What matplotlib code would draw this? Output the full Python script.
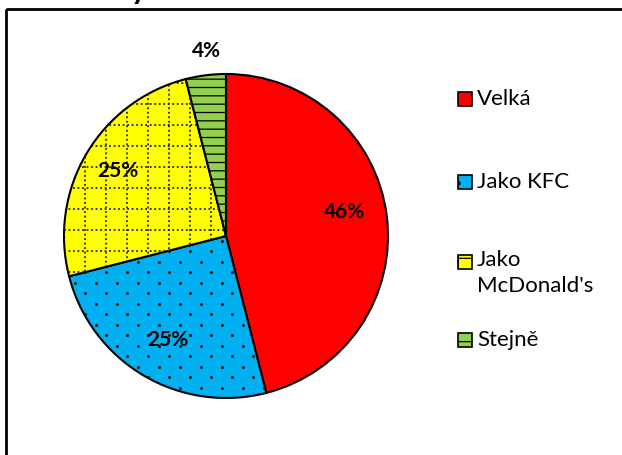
import numpy as np
import matplotlib.pyplot as plt
from matplotlib.patches import Rectangle

labels = ["Velká", "Jako KFC", "Jako\nMcDonald's", "Stejně"]
values = [46, 25, 25, 4]
pct_labels = ["46%", "25%", "25%", "4%"]
colors = ["#ff0000", "#00b0f0", "#ffff00", "#92d050"]
hatches = ["", "", "", "--"]

plt.rcParams["font.family"] = ["Lato", "DejaVu Sans"]
plt.rcParams["hatch.linewidth"] = 0.9
plt.rcParams["hatch.color"] = "#1a1a1a"

fig = plt.figure(figsize=(6.22, 4.55), dpi=100)
ax = fig.add_axes([0.0, 0.0, 1.0, 1.0])
ax.set_xlim(0, 622)
ax.set_ylim(455, 0)
ax.axis("off")

# chart frame (runs off the right and bottom edges)
ax.add_patch(Rectangle((6, 9), 640, 480, fill=False, lw=2, ec="black", clip_on=False))
# cut-off title descender
ax.text(139, -1, "y", fontsize=22, fontweight="bold", ha="center", va="baseline")

R = 162
pax = fig.add_axes([(226 - R) / 622, 1 - (236 + R) / 455, 2 * R / 622, 2 * R / 455])
wedges, _ = pax.pie(values, colors=colors, startangle=90, counterclock=False,
                    radius=1.0, wedgeprops=dict(edgecolor="black", linewidth=1.5))
for w, h in zip(wedges, hatches):
    w.set_hatch(h)
pax.set_xlim(-1, 1)
pax.set_ylim(-1, 1)
pax.set_aspect("equal")

# dotted grid fill for the McDonald's slice
step = 21 / R
for v in np.arange(-1, 1, step):
    for xs, ys in (([v, v], [-1, 1]), ([-1, 1], [v, v])):
        ln, = pax.plot(xs, ys, color="#222222", lw=1.3, ls=(0, (1, 1.5)))
        ln.set_clip_path(wedges[2])

# staggered dot fill for the KFC slice
gx, gy = np.meshgrid(np.arange(-1, 1, step), np.arange(-1, 1, step / 2))
gx = gx + (np.arange(gx.shape[0])[:, None] % 2) * step / 2
dots = pax.scatter(gx.ravel(), gy.ravel(), s=5, color="#1a1a1a", lw=0)
dots.set_clip_path(wedges[1])

pct_pos = [(0.73, 0.15), (-0.36, -0.64), (-0.67, 0.40), (-0.12, 1.14)]
for (x, y), t in zip(pct_pos, pct_labels):
    pax.text(x, y, t, fontsize=15, fontweight="bold", fontstyle="normal",
             ha="center", va="center", zorder=5)

# legend
leg_y = [99, 182, 262, 340]
leg_hatch = ["", ".", "+", "-"]
for c, h, lab, y in zip(colors, leg_hatch, labels, leg_y):
    ax.add_patch(Rectangle((458, y - 7), 14, 14, fc=c, ec="black", lw=1.2, hatch=h))
    if "\n" in lab:
        ax.text(477, y - 12, lab, fontsize=16, ha="left", va="top", linespacing=1.4)
    else:
        ax.text(477, y, lab, fontsize=16, ha="left", va="center")

fig.savefig("out.png", dpi=100)
